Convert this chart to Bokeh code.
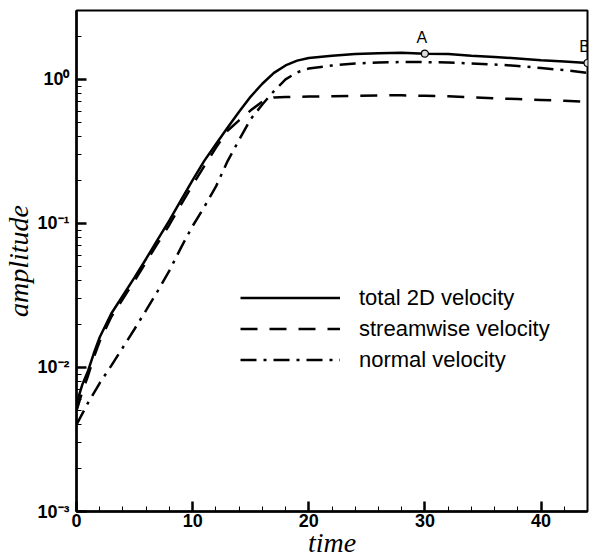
from bokeh.plotting import figure
from bokeh.models import FixedTicker, Legend, LegendItem, Range1d, ColumnDataSource, LabelSet
from bokeh.core.properties import value
from bokeh.embed import file_html
from bokeh.resources import INLINE

# ---- data ----
t_total = [0, 0.5, 1, 1.5, 2, 3, 4, 5, 6, 7, 8, 9, 10, 11, 12, 13, 14, 15, 16, 17, 18, 19, 20,
           22, 24, 26, 28, 30, 32, 34, 36, 38, 40, 42, 44]
amp_total = [0.0056, 0.0076, 0.0095, 0.0126, 0.0162, 0.0237, 0.0316, 0.0422, 0.0569, 0.0776,
             0.105, 0.145, 0.20, 0.272, 0.355, 0.462, 0.596, 0.76, 0.933, 1.11, 1.25, 1.35, 1.41,
             1.46, 1.50, 1.52, 1.53, 1.51, 1.50, 1.46, 1.43, 1.40, 1.36, 1.33, 1.30]

t_stream = [0, 0.5, 1, 1.5, 2, 3, 4, 5, 6, 7, 8, 9, 10, 11, 12, 13, 14, 15, 16, 16.6, 17, 18, 20,
            22, 24, 26, 28, 30, 32, 34, 36, 38, 40, 42, 44]
amp_stream = [0.0050, 0.0068, 0.0088, 0.0118, 0.0152, 0.0225, 0.030, 0.040, 0.054, 0.073,
              0.098, 0.135, 0.185, 0.25, 0.335, 0.44, 0.52, 0.61, 0.70, 0.735, 0.75, 0.755, 0.76,
              0.765, 0.77, 0.775, 0.775, 0.77, 0.765, 0.75, 0.74, 0.73, 0.72, 0.71, 0.70]

t_normal = [0, 1, 2, 3, 4, 5, 6, 7, 8, 9, 10, 11, 12, 13, 14, 15, 16, 17, 18, 19, 20,
            22, 24, 26, 28, 30, 32, 34, 36, 38, 40, 42, 44]
amp_normal = [0.0040, 0.0057, 0.0078, 0.0103, 0.0138, 0.0185, 0.025, 0.034, 0.047, 0.068, 0.096,
              0.13, 0.18, 0.27, 0.38, 0.53, 0.67, 0.83, 1.0, 1.12, 1.19,
              1.25, 1.29, 1.31, 1.32, 1.32, 1.31, 1.29, 1.27, 1.24, 1.20, 1.16, 1.11]

point_t = [30, 44]
point_amp = [1.51, 1.30]
point_labels = ["A", "B"]

series_names = ["total 2D velocity", "streamwise velocity", "normal velocity"]

x_major = [0, 10, 20, 30, 40]
x_minor = [2, 4, 6, 8, 12, 14, 16, 18, 22, 24, 26, 28, 32, 34, 36, 38, 42, 44]
y_major = [0.001, 0.01, 0.1, 1]
y_labels = ["10\u207b\u00b3", "10\u207b\u00b2", "10\u207b\u00b9", "10\u2070"]
y_minor = [m * d for d in [0.001, 0.01, 0.1, 1] for m in range(2, 10) if m * d < 3.0]

# ---- figure ----
p = figure(width=595, height=560, y_axis_type="log", output_backend="svg",
           toolbar_location=None, x_range=Range1d(0, 44), y_range=Range1d(0.001, 3.01),
           min_border_left=73, min_border_right=8, min_border_top=10, min_border_bottom=49)
p.grid.visible = False
p.background_fill_color = "white"
p.border_fill_color = "white"
p.outline_line_color = "black"
p.outline_line_width = 2

p.xaxis.ticker = FixedTicker(ticks=x_major, minor_ticks=x_minor)
p.yaxis.ticker = FixedTicker(ticks=y_major, minor_ticks=y_minor)
p.yaxis.major_label_overrides = {v: s for v, s in zip(y_major, y_labels)}

for ax in (p.xaxis[0], p.yaxis[0]):
    ax.axis_line_width = 2.5
    ax.axis_line_color = "black"
    ax.major_tick_in = 10
    ax.major_tick_out = 0
    ax.minor_tick_in = 5
    ax.minor_tick_out = 0
    ax.major_tick_line_width = 2.5
    ax.minor_tick_line_width = 1
    ax.major_label_text_font = "Liberation Sans"
    ax.major_label_text_font_size = "18px"
    ax.major_label_text_font_style = "bold"
    ax.major_label_text_color = "black"
    ax.axis_label_text_font = "Liberation Serif"
    ax.axis_label_text_font_style = "italic"
    ax.axis_label_text_font_size = "28px"
    ax.axis_label_text_color = "black"

p.xaxis.axis_label = "time"
p.yaxis.axis_label = "amplitude"
p.xaxis.major_label_standoff = 2
p.xaxis.axis_label_standoff = -3
p.yaxis.major_label_standoff = 7
p.yaxis.axis_label_standoff = 0

r1 = p.line(t_total, amp_total, line_color="black", line_width=2.5)
r2 = p.line(t_stream, amp_stream, line_color="black", line_width=2.5, line_dash="17 12")
r3 = p.line(t_normal, amp_normal, line_color="black", line_width=2.5, line_dash="16 7 3 7")

src = ColumnDataSource(dict(t=point_t, a=point_amp, lab=point_labels))
p.scatter("t", "a", source=src, marker="circle", size=7, fill_color="#dddddd",
          line_color="black", line_width=1.2)
labels = LabelSet(x="t", y="a", text="lab", source=src, text_align="center",
                  text_baseline="bottom", x_offset=-3, y_offset=8,
                  text_font=value("Liberation Sans"),
                  text_font_size="16px", text_color="black")
p.add_layout(labels)

legend = Legend(items=[LegendItem(label=series_names[0], renderers=[r1]),
                       LegendItem(label=series_names[1], renderers=[r2]),
                       LegendItem(label=series_names[2], renderers=[r3])],
                location=(164, 136), orientation="vertical")
legend.padding = 0
legend.margin = 0
legend.spacing = 0
legend.glyph_width = 100
legend.glyph_height = 31
legend.label_height = 31
legend.label_standoff = 19
legend.border_line_alpha = 0
legend.background_fill_alpha = 0
legend.label_text_font = "Liberation Sans"
legend.label_text_font_size = "22px"
legend.label_text_color = "black"
p.add_layout(legend)

open("out.html", "w").write(file_html(p, INLINE))
